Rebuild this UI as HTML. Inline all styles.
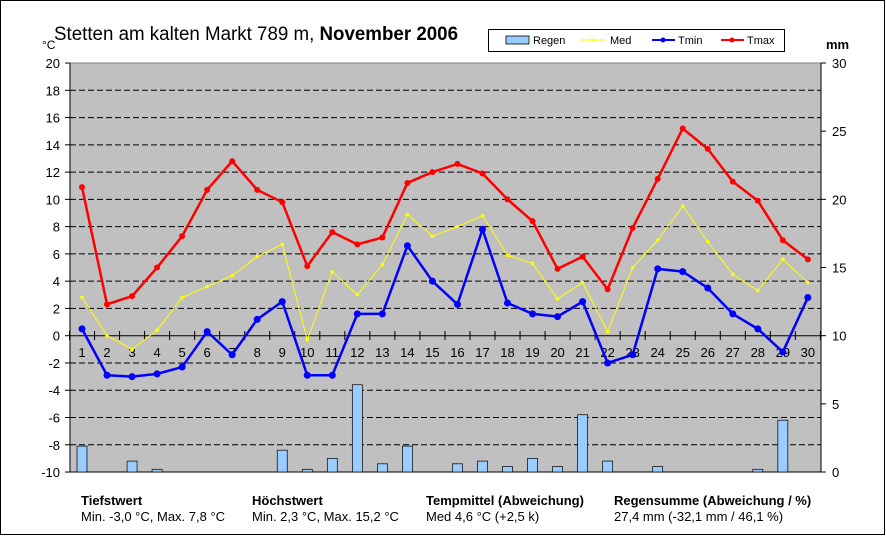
<!DOCTYPE html>
<html><head><meta charset="utf-8"><style>
body{margin:0;background:#fff}
svg{display:block;font-family:"Liberation Sans",sans-serif}
</style></head><body>
<svg id="s" width="886" height="536" xmlns="http://www.w3.org/2000/svg">
<rect x="0.5" y="0.5" width="884" height="534" fill="#fff" stroke="#000"/>
<rect x="70" y="63" width="751" height="409" fill="#c0c0c0" stroke="#808080"/>
<g id="g"></g>
<text x="54" y="40" font-size="19" textLength="404" lengthAdjust="spacingAndGlyphs">Stetten am kalten Markt  789 m, <tspan font-weight="bold">November 2006</tspan></text>
<text x="42" y="49" font-size="12">°C</text>
<text x="826" y="49" font-size="13" font-weight="bold">mm</text>
<rect x="488.5" y="29.5" width="296" height="22" fill="#fff" stroke="#000"/>
<rect x="506" y="36" width="23" height="8" fill="#99ccff" stroke="#000" stroke-width="0.8"/>
<text x="533" y="44" font-size="11">Regen</text>
<line x1="580" y1="40" x2="605" y2="40" stroke="#ffff00" stroke-width="1"/><circle cx="592" cy="40" r="1.5" fill="#ffff00"/>
<text x="610" y="44" font-size="11">Med</text>
<line x1="652" y1="40" x2="675" y2="40" stroke="#0000ff" stroke-width="2"/><circle cx="663" cy="40" r="2.5" fill="#0000ff"/>
<text x="678" y="44" font-size="11">Tmin</text>
<line x1="721" y1="40" x2="744" y2="40" stroke="#ff0000" stroke-width="2"/><circle cx="732" cy="40" r="2.5" fill="#ff0000"/>
<text x="747" y="44" font-size="11">Tmax</text>
<g font-size="13" font-weight="bold"><text x="81" y="505">Tiefstwert</text><text x="252" y="505">Höchstwert</text><text x="426" y="505">Tempmittel (Abweichung)</text><text x="614" y="505">Regensumme (Abweichung / %)</text></g>
<g font-size="13"><text x="81" y="521">Min. -3,0 °C, Max. 7,8 °C</text><text x="252" y="521">Min. 2,3 °C, Max. 15,2 °C</text><text x="426" y="521">Med 4,6 °C (+2,5 k)</text><text x="614" y="521">27,4 mm (-32,1 mm / 46,1 %)</text></g>
</svg>
<script>
var g=document.getElementById('g'),h='';
function Y(t){return 335.7-t*13.633}
function X(d){return 82+(d-1)*25.03}
for(var t=-10;t<=20;t+=2){var y=Y(t);
 if(t>-10&&t<20&&t!=0)h+='<line x1="70" y1="'+y+'" x2="821" y2="'+y+'" stroke="#000" stroke-dasharray="6,3"/>';
 h+='<line x1="65" y1="'+y+'" x2="70" y2="'+y+'" stroke="#000"/><text x="60" y="'+(y+5)+'" font-size="13" text-anchor="end">'+t+'</text>';}
for(var m=0;m<=30;m+=5){var y=472-m*13.633;h+='<line x1="821" y1="'+y+'" x2="826" y2="'+y+'" stroke="#000"/><text x="832" y="'+(y+5)+'" font-size="13">'+m+'</text>';}
h+='<line x1="70" y1="472" x2="821" y2="472" stroke="#000"/><line x1="70" y1="335.7" x2="821" y2="335.7" stroke="#000"/><line x1="70" y1="63" x2="70" y2="472" stroke="#000"/><line x1="821" y1="63" x2="821" y2="472" stroke="#000"/>';
for(var d=1;d<=31;d++){var x=X(d)-12.5;h+='<line x1="'+x+'" y1="331" x2="'+x+'" y2="340" stroke="#000"/>';}
var rain={1:1.9,3:0.8,4:0.2,9:1.6,10:0.2,11:1.0,12:6.4,13:0.6,14:1.9,16:0.6,17:0.8,18:0.4,19:1.0,20:0.4,21:4.2,22:0.8,24:0.4,28:0.2,29:3.8};
for(var d in rain){var hh=rain[d]*13.633;h+='<rect x="'+(X(+d)-5)+'" y="'+(472-hh)+'" width="10" height="'+hh+'" fill="#99ccff" stroke="#000" stroke-width="0.7"/>';}
for(var d=1;d<=30;d++)h+='<text x="'+X(d)+'" y="357" font-size="13" text-anchor="middle">'+d+'</text>';
var tmax=[10.9,2.3,2.9,5.0,7.3,10.7,12.8,10.7,9.8,5.1,7.6,6.7,7.2,11.2,12.0,12.6,11.9,10.0,8.4,4.9,5.8,3.4,7.9,11.5,15.2,13.7,11.3,9.9,7.0,5.6];
var tmin=[0.5,-2.9,-3.0,-2.8,-2.3,0.3,-1.4,1.2,2.5,-2.9,-2.9,1.6,1.6,6.6,4.0,2.3,7.8,2.4,1.6,1.4,2.5,-2.0,-1.4,4.9,4.7,3.5,1.6,0.5,-1.2,2.8];
var med=[2.8,0.0,-1.0,0.4,2.8,3.6,4.4,5.8,6.7,-0.3,4.7,3.0,5.2,8.9,7.3,8.0,8.8,5.9,5.3,2.7,3.9,0.3,5.0,7.0,9.5,6.9,4.5,3.3,5.6,3.9];
function ser(a,c,w,r){var p=a.map(function(v,i){return X(i+1)+','+Y(v)}).join(' ');var s='<polyline points="'+p+'" fill="none" stroke="'+c+'" stroke-width="'+w+'"/>';a.forEach(function(v,i){s+='<circle cx="'+X(i+1)+'" cy="'+Y(v)+'" r="'+r+'" fill="'+c+'"/>'});return s;}
h+=ser(med,'#ffff00',1,1.8)+ser(tmin,'#0000ff',2.5,3.5)+ser(tmax,'#ff0000',2.5,3);
g.innerHTML=h;
</script>
</body></html>
